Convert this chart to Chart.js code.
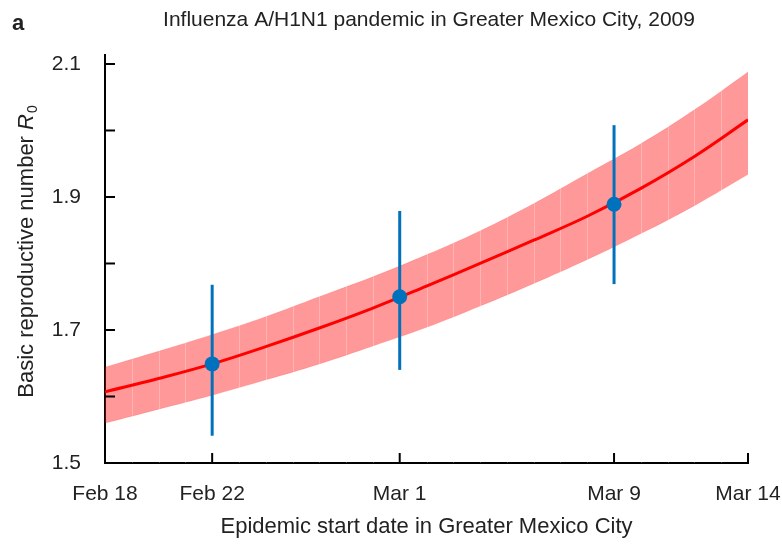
<!DOCTYPE html>
<html>
<head>
<meta charset="utf-8">
<script src="https://cdn.jsdelivr.net/npm/chart.js@4"></script>
<style>
  html, body { margin: 0; padding: 0; background: #fff; }
  #wrap { width: 782px; height: 546px; position: relative; }
</style>
</head>
<body>
<div id="wrap"><canvas id="chart"></canvas></div>
<script>
// x axis is days after Feb 18, 2009
const tickDays = [0, 4, 11, 19, 24];
const tickLabels = ['Feb 18', 'Feb 22', 'Mar 1', 'Mar 9', 'Mar 14'];

const yTicks = [1.5, 1.6, 1.7, 1.8, 1.9, 2.0, 2.1];
const yTickLabels = ['1.5', '', '1.7', '', '1.9', '', '2.1'];

// fitted R0 curve and its band, read every 2 days
const curveDays = [0, 2, 4, 6, 8, 10, 12, 14, 16, 18, 20, 22, 24];
const r0Fit   = [1.607, 1.627, 1.649, 1.675, 1.703, 1.733, 1.766, 1.800, 1.835, 1.871, 1.913, 1.961, 2.016];
const r0Upper = [1.644, 1.668, 1.693, 1.720, 1.750, 1.780, 1.813, 1.849, 1.890, 1.935, 1.980, 2.031, 2.088];
const r0Lower = [1.560, 1.581, 1.602, 1.625, 1.649, 1.676, 1.704, 1.736, 1.770, 1.806, 1.845, 1.887, 1.934];

// estimates with error bars
const obsDays = [4, 11, 19];
const obsR0   = [1.649, 1.750, 1.889];
const obsLow  = [1.541, 1.640, 1.769];
const obsHigh = [1.768, 1.879, 2.008];

const FONT = '"Liberation Sans", Arial, Helvetica, sans-serif';
const TXT = '#222';
const BLUE = '#0072BD';

const toXY = (xs, ys) => xs.map((x, i) => ({ x: x, y: ys[i] }));

const errorBars = obsDays.map((d, i) => ({
  data: [{ x: d, y: obsLow[i] }, { x: d, y: obsHigh[i] }],
  showLine: true,
  borderColor: BLUE,
  borderWidth: 3,
  pointRadius: 0,
  fill: false,
  order: 2
}));

// faint day seams over the band, like the original rendering
const bandSeams = {
  id: 'bandSeams',
  afterDatasetDraw(chart, args) {
    if (args.index !== 0) return;
    const { ctx, chartArea, scales } = chart;
    ctx.save();
    ctx.strokeStyle = 'rgba(255,255,255,0.25)';
    ctx.lineWidth = 1;
    for (let d = 1; d < 24; d++) {
      const x = Math.round(scales.x.getPixelForValue(d)) + 0.5;
      ctx.beginPath();
      ctx.moveTo(x, chartArea.top);
      ctx.lineTo(x, chartArea.bottom);
      ctx.stroke();
    }
    ctx.restore();
  }
};

// titles, panel letter and inward tick marks
const decor = {
  id: 'decor',
  afterDraw(chart) {
    const { ctx, chartArea, scales } = chart;
    ctx.save();
    ctx.fillStyle = TXT;

    ctx.font = 'bold 22px ' + FONT;
    ctx.textAlign = 'left';
    ctx.textBaseline = 'middle';
    ctx.fillText('a', 12, 24);

    ctx.font = '21px ' + FONT;
    ctx.textAlign = 'center';
    ctx.fillText('Influenza A/H1N1 pandemic in Greater Mexico City, 2009', 429, 20);

    // y axis title with italic R and subscript 0
    const part1 = 'Basic reproductive number ';
    ctx.translate(27, 252);
    ctx.rotate(-Math.PI / 2);
    ctx.textAlign = 'left';
    ctx.font = '22px ' + FONT;
    const w1 = ctx.measureText(part1).width;
    ctx.font = 'italic 22px ' + FONT;
    const w2 = ctx.measureText('R').width;
    ctx.font = '14px ' + FONT;
    const w3 = ctx.measureText('0').width;
    let x0 = -(w1 + w2 + w3) / 2;
    ctx.font = '22px ' + FONT;
    ctx.fillText(part1, x0, 0);
    ctx.font = 'italic 22px ' + FONT;
    ctx.fillText('R', x0 + w1, 0);
    ctx.font = '14px ' + FONT;
    ctx.fillText('0', x0 + w1 + w2 + 1, 6);
    ctx.setTransform(1, 0, 0, 1, 0, 0);

    ctx.strokeStyle = '#000';
    ctx.lineWidth = 2;
    yTicks.forEach(v => {
      const y = scales.y.getPixelForValue(v);
      ctx.beginPath();
      ctx.moveTo(chartArea.left, y);
      ctx.lineTo(chartArea.left + 10, y);
      ctx.stroke();
    });
    tickDays.forEach(d => {
      const x = scales.x.getPixelForValue(d);
      ctx.beginPath();
      ctx.moveTo(x, chartArea.bottom);
      ctx.lineTo(x, chartArea.bottom - 10);
      ctx.stroke();
    });
    ctx.restore();
  }
};

new Chart(document.getElementById('chart'), {
  type: 'scatter',
  data: {
    datasets: [
      {
        label: 'upper',
        data: toXY(curveDays, r0Upper),
        showLine: true,
        borderColor: 'rgba(255,0,0,0.15)',
        borderWidth: 1,
        backgroundColor: 'rgba(255,0,0,0.4)',
        pointRadius: 0,
        tension: 0.4,
        fill: '+1',
        order: 5
      },
      {
        label: 'lower',
        data: toXY(curveDays, r0Lower),
        showLine: true,
        borderColor: 'rgba(255,0,0,0.15)',
        borderWidth: 1,
        pointRadius: 0,
        tension: 0.4,
        fill: false,
        order: 6
      },
      {
        label: 'fit',
        data: toXY(curveDays, r0Fit),
        showLine: true,
        borderColor: '#ff0000',
        borderWidth: 3,
        pointRadius: 0,
        tension: 0.4,
        fill: false,
        order: 3
      },
      ...errorBars,
      {
        label: 'estimate',
        data: toXY(obsDays, obsR0),
        pointRadius: 7.5,
        pointBackgroundColor: BLUE,
        pointBorderColor: BLUE,
        pointBorderWidth: 0,
        order: 1
      }
    ]
  },
  options: {
    responsive: true,
    maintainAspectRatio: false,
    animation: false,
    layout: {
      padding: { left: 0, right: 34, top: 55, bottom: 0 }
    },
    plugins: {
      legend: { display: false },
      tooltip: { enabled: false },
      title: { display: false }
    },
    scales: {
      x: {
        type: 'linear',
        min: 0,
        max: 24,
        afterBuildTicks: scale => {
          scale.ticks = tickDays.map(v => ({ value: v }));
        },
        afterFit: scale => {
          scale.height = 83;
          scale.paddingLeft = 0;
          scale.paddingRight = 0;
        },
        grid: { display: true, drawOnChartArea: false, drawTicks: false },
        border: { display: true, color: '#000', width: 2 },
        ticks: {
          autoSkip: false,
          maxRotation: 0,
          padding: 19,
          color: TXT,
          font: { family: FONT, size: 21 },
          callback: (value, index) => tickLabels[index]
        },
        title: {
          display: true,
          text: 'Epidemic start date in Greater Mexico City',
          color: TXT,
          font: { family: FONT, size: 22 },
          padding: { top: 0, bottom: 6 }
        }
      },
      y: {
        min: 1.5,
        max: 2.1135,
        afterBuildTicks: scale => {
          scale.ticks = yTicks.map(v => ({ value: v }));
        },
        afterFit: scale => {
          scale.width = 105;
          scale.paddingTop = 0;
          scale.paddingBottom = 0;
        },
        grid: { display: true, drawOnChartArea: false, drawTicks: false },
        border: { display: true, color: '#000', width: 2 },
        ticks: {
          autoSkip: false,
          padding: 24,
          color: TXT,
          font: { family: FONT, size: 21 },
          callback: (value, index) => yTickLabels[index]
        }
      }
    }
  },
  plugins: [bandSeams, decor]
});
</script>
</body>
</html>
